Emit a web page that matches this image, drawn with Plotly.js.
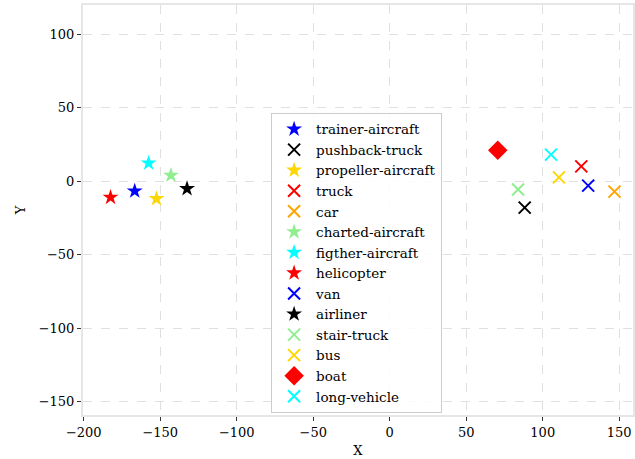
<!DOCTYPE html>
<html>
<head>
<meta charset="utf-8">
<script src="https://cdn.plot.ly/plotly-3.0.1.min.js"></script>
<style>html,body{margin:0;padding:0;background:#fff}#chart{width:635px;height:459px}</style>
</head>
<body>
<div id="chart"></div>
<script>
var names = ["trainer-aircraft","pushback-truck","propeller-aircraft","truck","car","charted-aircraft","figther-aircraft","helicopter","van","airliner","stair-truck","bus","boat","long-vehicle"];
var xs = [-166.7, 88.2, -152.5, 125.2, 146.9, -143.0, -157.6, -182.5, 129.7, -132.5, 83.9, 110.6, 70.6, 105.4];
var ys = [-6.6, -17.9, -11.8, 10.2, -7.0, 4.1, 12.4, -10.9, -2.9, -5.0, -5.6, 2.7, 21.1, 18.2];
var colors = ["#0000FF","#000000","#FFD700","#FF0000","#FFA500","#90EE90","#00FFFF","#FF0000","#0000FF","#000000","#90EE90","#FFD700","#FF0000","#00FFFF"];
var shapes = ["star","x","star","x","x","star","star","star","x","star","x","x","diamond","x"];

var traces = names.map(function(n,i){
  var s = shapes[i];
  var m;
  if (s === "star") m = {symbol:"star", size:12, color:colors[i], line:{width:0}};
  else if (s === "x") m = {symbol:"x-thin-open", size:12, color:colors[i], line:{width:2, color:colors[i]}};
  else m = {symbol:"diamond", size:15, color:colors[i], line:{width:0}};
  return {type:"scatter", mode:"markers", name:n, x:[xs[i]], y:[ys[i]], marker:m};
});

var font = {family:"DejaVu Serif, serif", size:13, color:"#000"};
var legFont = {family:"DejaVu Serif, serif", size:13.5, color:"#000"};
var axisCommon = {
  showgrid:true, gridcolor:"#e0e0e0", griddash:"dash", gridwidth:1,
  zeroline:false, showline:true, mirror:true, linecolor:"#e6e6e6", linewidth:2,
  ticks:"outside", ticklen:4, tickcolor:"#333", tickwidth:1,
  tickfont:font
};
var layout = {
  width:635, height:459,
  margin:{l:83, r:2, t:5, b:44},
  paper_bgcolor:"#fff", plot_bgcolor:"#fff",
  font:font,
  showlegend:true,
  xaxis:Object.assign({}, axisCommon, {range:[-200.5,159], tickvals:[-200,-150,-100,-50,0,50,100,150], ticktext:["\u2212200","\u2212150","\u2212100","\u221250","0","50","100","150"], title:{text:"X", font:font, standoff:7}}),
  yaxis:Object.assign({}, axisCommon, {range:[-159,120], tickvals:[-150,-100,-50,0,50,100], ticktext:["\u2212150","\u2212100","\u221250","0","50","100"], title:{text:"Y", font:font, standoff:10}}),
  legend:{x:0.342, y:0.737, xanchor:"left", yanchor:"top", bgcolor:"rgba(255,255,255,0.85)", bordercolor:"#cccccc", borderwidth:1, font:legFont, tracegroupgap:0, itemwidth:34}
};
Plotly.newPlot("chart", traces, layout, {displayModeBar:false, staticPlot:true});
</script>
</body>
</html>
